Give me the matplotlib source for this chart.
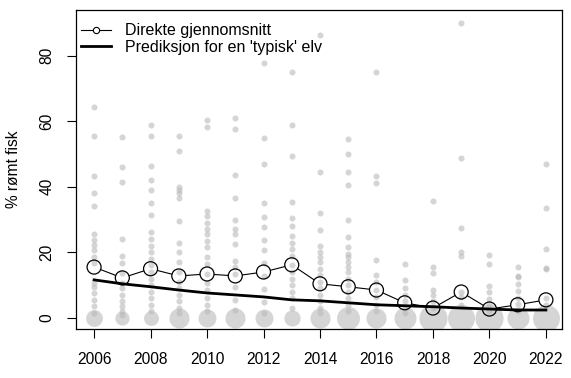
import matplotlib
matplotlib.use("Agg")
import matplotlib.pyplot as plt
from matplotlib.lines import Line2D
import numpy as np

plt.rcParams['font.family'] = ['Liberation Sans', 'DejaVu Sans']

years = list(range(2006, 2023))

river_values = {
    2006: [64.4, 55.5, 43.4, 38.2, 34.1, 25.6, 23.8, 22.3, 20.7, 18.7, 16.7, 10.7, 9.5, 7.6, 5.5, 3.5, 1.5],
    2007: [55.2, 46.0, 41.5, 24.0, 19.0, 16.7, 13.7, 10.7, 9.0, 7.0, 5.0, 3.5, 2.0, 1.0],
    2008: [59.0, 55.5, 46.5, 42.0, 39.0, 35.0, 31.5, 26.3, 24.0, 22.0, 20.0, 18.0, 16.0, 14.0, 12.0, 10.0, 8.0, 6.0, 4.0, 2.0],
    2009: [55.5, 51.0, 40.0, 39.0, 38.0, 36.5, 29.7, 23.0, 20.0, 17.0, 14.0, 11.0, 9.0, 7.0, 5.0, 3.0, 1.5],
    2010: [60.5, 58.3, 32.5, 31.0, 29.0, 27.0, 25.5, 23.5, 21.5, 18.5, 16.5, 13.5, 10.5, 8.5, 6.0, 4.0, 2.0],
    2011: [61.0, 57.6, 43.6, 36.6, 29.8, 27.0, 25.5, 22.5, 17.5, 15.5, 13.5, 9.5, 5.5, 2.5],
    2012: [77.7, 55.0, 47.0, 35.0, 30.8, 27.8, 23.8, 20.8, 16.8, 12.8, 8.8, 4.8, 1.5],
    2013: [75.0, 59.0, 49.5, 35.4, 30.5, 28.0, 25.0, 23.0, 21.0, 19.0, 16.0, 14.0, 12.0, 10.0, 8.0, 6.0, 3.0],
    2014: [86.3, 44.5, 32.0, 26.8, 22.0, 20.0, 18.5, 17.0, 15.0, 13.0, 11.0, 9.0, 7.0, 5.0, 3.0, 1.5],
    2015: [54.6, 50.0, 44.5, 40.5, 30.0, 24.8, 21.5, 19.5, 18.5, 17.0, 15.5, 14.0, 12.0, 10.0, 8.0, 6.0, 4.0, 2.0],
    2016: [75.0, 43.4, 41.1, 17.7, 13.0, 11.0, 8.5, 6.5, 4.0, 2.0],
    2017: [16.5, 11.6, 9.0, 7.0, 5.0, 3.0, 1.5],
    2018: [35.7, 15.6, 13.7, 8.5, 7.0, 5.0, 3.0],
    2019: [90.1, 48.9, 27.4, 20.2, 18.9, 8.0, 6.5, 4.0],
    2020: [19.2, 16.5, 9.8, 7.8, 5.8, 3.8, 2.0],
    2021: [15.6, 12.9, 12.5, 10.2, 8.2, 6.2, 4.2, 2.2],
    2022: [47.0, 33.5, 21.0, 15.2, 14.8, 6.0, 4.0],
}

# number of rivers with 0 % escaped fish per year
n_zero = [14, 10, 11, 20, 16, 20, 16, 13, 20, 26, 20, 24, 39, 36, 39, 24, 36]

mean_values = [15.5, 12.2, 15.0, 12.8, 13.4, 12.8, 14.0, 16.2, 10.4, 9.5, 8.5, 4.6, 3.0, 7.9, 2.7, 4.0, 5.5]
pred_values = [11.6, 10.4, 9.5, 8.5, 7.6, 7.0, 6.4, 5.5, 5.2, 4.6, 4.0, 3.7, 3.4, 3.0, 2.7, 2.4, 2.4]

xticks = [2006, 2008, 2010, 2012, 2014, 2016, 2018, 2020, 2022]
yticks = [0, 20, 40, 60, 80]

FS = 11.2

fig = plt.figure(figsize=(5.71, 3.78), dpi=100)
ax = fig.add_axes([76/571, 1-329/378, (562-76)/571, (329-10)/378])
ax.set_xlim(2005.36, 2022.57)
ax.set_ylim(-3.4, 94)

pt_color = (0.73, 0.73, 0.73)
for yr in years:
    v = river_values[yr]
    ax.scatter([yr]*len(v), v, s=19, color=pt_color, alpha=0.6, linewidths=0, zorder=1)
for yr, n in zip(years, n_zero):
    ax.scatter([yr], [0], s=(4.5*np.sqrt(n)*0.72)**2, color=pt_color, alpha=0.6, linewidths=0, zorder=1)

# prediction line
ax.plot(years, pred_values, color='black', lw=2, zorder=3)

# mean line with gaps at circles (R type="b")
fig.canvas.draw()
r_px = 7.5
pts = ax.transData.transform(np.column_stack([years, mean_values]))
inv = ax.transData.inverted()
for i in range(len(pts)-1):
    p0, p1 = pts[i], pts[i+1]
    d = p1 - p0
    L = np.hypot(*d)
    if L > 2*r_px:
        u = d / L
        a = inv.transform(p0 + u*r_px)
        b = inv.transform(p1 - u*r_px)
        ax.plot([a[0], b[0]], [a[1], b[1]], color='black', lw=0.8, zorder=4)
ax.scatter(years, mean_values, s=(14*0.72)**2, facecolors='none', edgecolors='black', linewidths=0.9, zorder=5)

ax.set_xticks(xticks)
ax.set_yticks(yticks)
ax.set_yticklabels([str(t) for t in yticks], rotation=90, va='center')
ax.tick_params(axis='both', direction='out', length=6.5, width=0.8, labelsize=FS, colors='black')
ax.tick_params(axis='x', pad=10)
ax.tick_params(axis='y', pad=9)
for s in ax.spines.values():
    s.set_linewidth(0.9)
ax.set_ylabel('% rømt fisk', fontsize=FS, labelpad=13)

handles = [
    Line2D([], [], color='black', lw=0.8, marker='o', markersize=4.5, mfc='white', mec='black', mew=0.8),
    Line2D([], [], color='black', lw=2),
]
ax.legend(handles, ['Direkte gjennomsnitt', "Prediksjon for en 'typisk' elv"],
          loc='upper left', bbox_to_anchor=(0.0103, 0.958), frameon=False, fontsize=11.5,
          handlelength=1.88, borderaxespad=0, borderpad=0, labelspacing=0.08, handletextpad=0.87)

fig.savefig('out.png', dpi=100)
